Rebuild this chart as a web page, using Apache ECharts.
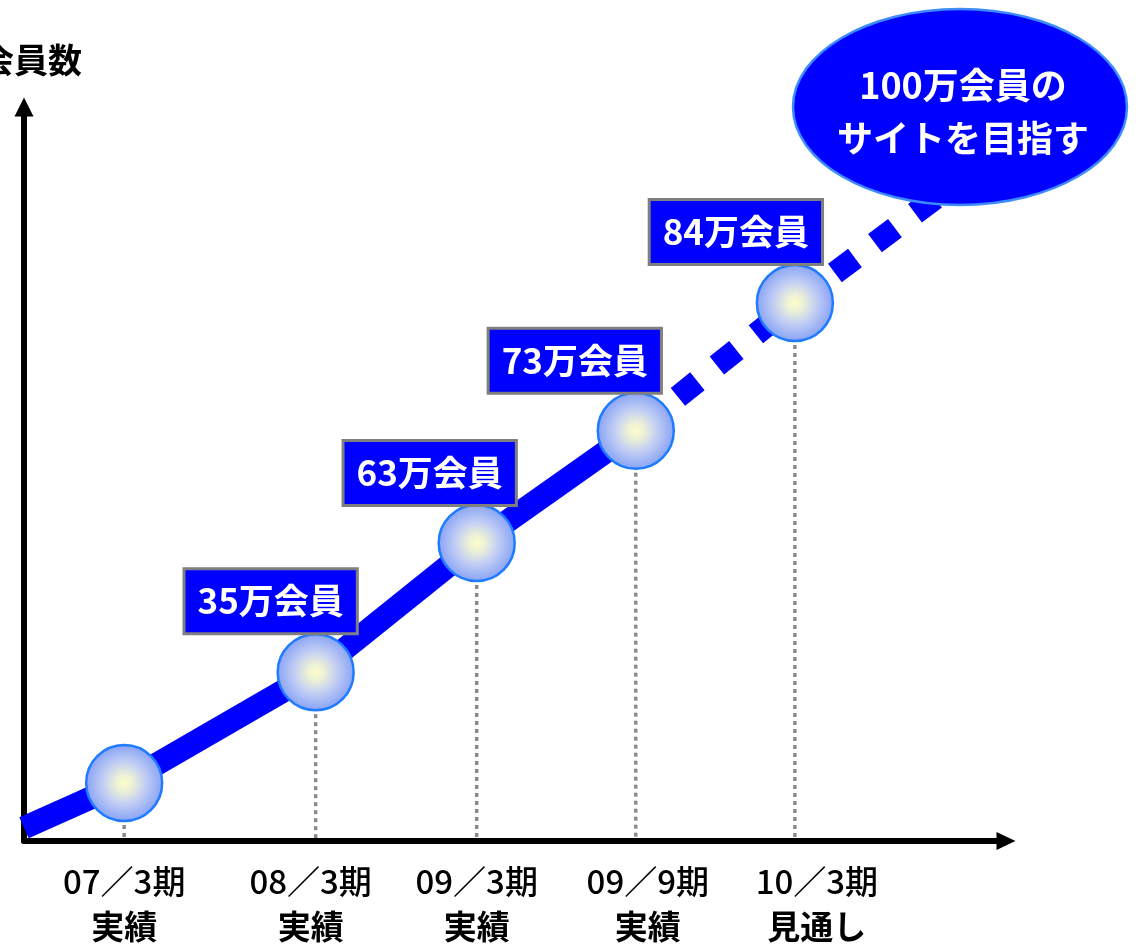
<!DOCTYPE html>
<html><head><meta charset="utf-8">
<script src="https://cdn.jsdelivr.net/npm/echarts@6/dist/echarts.min.js"></script>
<style>html,body{margin:0;padding:0;background:#fff}#c{width:1136px;height:946px}</style>
</head><body><div id="c"></div>
<script>
// ---- data ----
const periods = ['07／3期', '08／3期', '09／3期', '09／9期', '10／3期'];
const periodStatus = ['実績', '実績', '実績', '実績', '見通し'];
const members = [null, 35, 63, 73, 84];          // 万会員 (label values)
const periodX = [10.2, 29.7, 46.1, 62.3, 78.5];  // position along time axis (0-100)
const memberLevel = [7.9, 23.0, 40.6, 55.9, 73.3]; // drawn height (0-100)
const trendStart = [0, 1.8];
const trendGoal = [95.3, 90.1];
const yAxisTitle = '会員数';
const goalText = ['100万会員の', 'サイトを目指す'];

// ---- chart ----
const FONT = "'Noto Sans CJK JP', sans-serif";
const pts = periodX.map((x, i) => [x, memberLevel[i]]);
const solidData = [trendStart].concat(pts.slice(0, 4));
const dashData = [pts[3], pts[4], trendGoal];

const labelShift = [0, -5, 0, 12, 22];
const labelOffsets = [[0, 0], [-45, -71], [-47, -70], [-61, -70], [-59, -71]];
const rich = {};
labelShift.forEach((s, i) => {
  const pad = s >= 0 ? [0, 0, 0, 2 * s] : [0, -2 * s, 0, 0];
  rich['a' + i] = {fontSize: 33, fontFamily: FONT, fontWeight: 500, color: '#000', lineHeight: 45, padding: pad};
  rich['b' + i] = {fontSize: 33, fontFamily: FONT, fontWeight: 'bold', color: '#000', lineHeight: 45, padding: pad};
});

const chart = echarts.init(document.getElementById('c'), null, {renderer: 'canvas'});
chart.setOption({
  animation: false,
  backgroundColor: '#fff',
  grid: {left: 24, right: 130, top: 107, bottom: 105, containLabel: false, outerBoundsMode: 'none'},
  xAxis: {
    type: 'value', min: 0, max: 100,
    splitLine: {show: false},
    axisTick: {show: false},
    axisLine: {show: true, symbol: ['none', 'triangle'], symbolSize: [18, 19],
      lineStyle: {color: '#000', width: 6}},
    axisLabel: {
      show: true, customValues: periodX, margin: 18, hideOverlap: false,
      formatter: function (v) {
        let i = periodX.indexOf(v);
        if (i < 0) { let best = 0; periodX.forEach((x, k) => { if (Math.abs(x - v) < Math.abs(periodX[best] - v)) best = k; }); i = best; }
        return '{a' + i + '|' + periods[i] + '}\n{b' + i + '|' + periodStatus[i] + '}';
      },
      rich: rich
    }
  },
  yAxis: {
    type: 'value', min: 0, max: 100,
    name: yAxisTitle, nameLocation: 'end', nameGap: 30,
    nameTextStyle: {fontSize: 34, fontWeight: 'bold', color: '#000', fontFamily: FONT, padding: [0, 0, 0, 14]},
    splitLine: {show: false},
    axisTick: {show: false},
    axisLabel: {show: false},
    axisLine: {show: true, symbol: ['none', 'triangle'], symbolSize: [19, 19],
      lineStyle: {color: '#000', width: 6}}
  },
  series: [
    {
      type: 'custom', z: 1, clip: false,
      data: pts,
      renderItem: function (params, api) {
        const top = api.coord([api.value(0), api.value(1)]);
        const bot = api.coord([api.value(0), 0]);
        return {type: 'line', shape: {x1: top[0], y1: top[1] + 42, x2: top[0], y2: bot[1] - 3},
          style: {stroke: '#8a8a8a', lineWidth: 3.5, lineDash: [4, 4]}};
      }
    },
    {
      type: 'line', z: 2, clip: false, showSymbol: false, symbol: 'none',
      data: solidData,
      lineStyle: {color: '#0000ff', width: 23, cap: 'butt', join: 'round'}
    },
    {
      type: 'line', z: 2, clip: false, showSymbol: false, symbol: 'none',
      data: dashData,
      lineStyle: {color: '#0000ff', width: 23, type: [25, 25], dashOffset: -4, cap: 'butt', join: 'miter'}
    },
    {
      type: 'scatter', z: 3, clip: false,
      symbol: 'circle', symbolSize: 76,
      itemStyle: {
        color: {type: 'radial', x: 0.5, y: 0.5, r: 0.5, colorStops: [
          {offset: 0, color: '#fdfdc8'}, {offset: 0.2, color: '#eef2d6'},
          {offset: 0.55, color: '#c1cdf4'}, {offset: 1, color: '#86a1f6'}]},
        borderColor: '#1f7bff', borderWidth: 2.5, opacity: 1
      },
      label: {
        position: 'inside',
        formatter: function (p) { return members[p.dataIndex] + '万会員'; },
        fontSize: 35, fontWeight: 'bold', color: '#fff', fontFamily: FONT,
        backgroundColor: '#0000ff', borderColor: '#7f7f7f', borderWidth: 3,
        padding: [12, 12], lineHeight: 38
      },
      emphasis: {disabled: true},
      data: pts.map((p, i) => ({value: p, label: {show: members[i] != null, offset: labelOffsets[i]}}))
    }
  ],
  graphic: [
    {type: 'ellipse', z: 100, shape: {cx: 960, cy: 107, rx: 167, ry: 98},
      style: {fill: '#0000ff', stroke: '#3d8bff', lineWidth: 2.5}},
    {type: 'text', z: 101, x: 963, y: 112,
      style: {text: goalText.join('\n'), fill: '#fff', fontSize: 36, fontWeight: 'bold', fontFamily: FONT,
        textAlign: 'center', textVerticalAlign: 'middle', lineHeight: 53}}
  ]
});
</script></body></html>
